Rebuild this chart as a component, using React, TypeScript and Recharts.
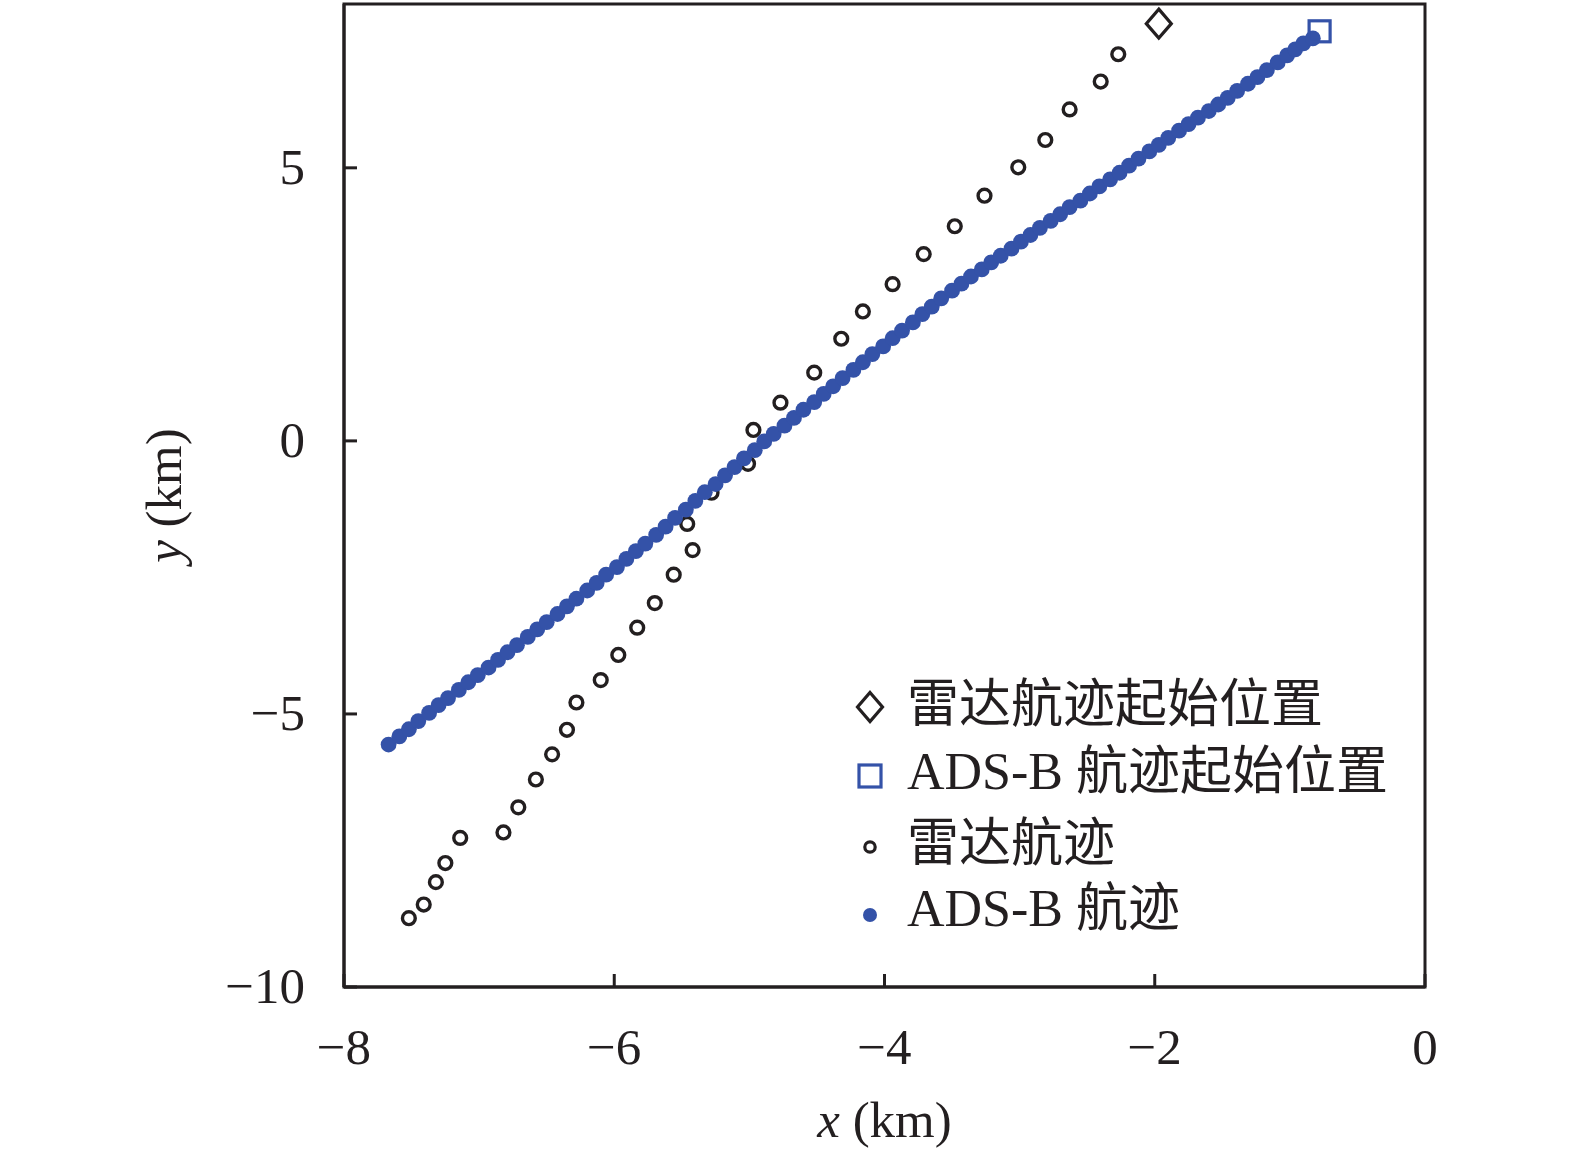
import React from 'react';
import { ScatterChart, Scatter, XAxis, YAxis, ReferenceArea, Legend } from 'recharts';

// ---------- data ----------
const xTicks = [-8, -6, -4, -2, 0];
const yTicks = [-10, -5, 0, 5];

const radarX = [
  -7.52, -7.41, -7.32, -7.25, -7.14, -6.82, -6.71, -6.58, -6.46, -6.35, -6.28, -6.1,
  -5.97, -5.83, -5.7, -5.56, -5.42, -5.46, -5.28, -5.01, -4.97, -4.77, -4.52, -4.32,
  -4.16, -3.94, -3.71, -3.48, -3.26, -3.01, -2.81, -2.63, -2.4, -2.27,
];
const radarY = [
  -8.74, -8.49, -8.08, -7.73, -7.27, -7.17, -6.71, -6.2, -5.74, -5.29, -4.79, -4.38,
  -3.92, -3.42, -2.97, -2.45, -2.0, -1.52, -0.95, -0.42, 0.2, 0.7, 1.25, 1.87,
  2.37, 2.87, 3.42, 3.93, 4.49, 5.01, 5.51, 6.07, 6.58, 7.08,
];

const adsbX = [
  -7.67, -7.59, -7.52, -7.45, -7.37, -7.3, -7.23, -7.15, -7.08, -7.01, -6.93, -6.86,
  -6.79, -6.72, -6.64, -6.57, -6.5, -6.42, -6.35, -6.28, -6.2, -6.13, -6.06, -5.98,
  -5.91, -5.84, -5.77, -5.69, -5.62, -5.55, -5.47, -5.4, -5.33, -5.25, -5.18, -5.11,
  -5.04, -4.96, -4.89, -4.82, -4.74, -4.67, -4.6, -4.52, -4.45, -4.38, -4.31, -4.23,
  -4.16, -4.09, -4.01, -3.94, -3.87, -3.79, -3.72, -3.65, -3.58, -3.5, -3.43, -3.36,
  -3.28, -3.21, -3.14, -3.06, -2.99, -2.92, -2.85, -2.77, -2.7, -2.63, -2.55, -2.48,
  -2.41, -2.33, -2.26, -2.19, -2.12, -2.04, -1.97, -1.9, -1.82, -1.75, -1.68, -1.6,
  -1.53, -1.46, -1.39, -1.31, -1.24, -1.17, -1.09, -1.02, -0.96, -0.9, -0.83,
];
const adsbY = [
  -5.56, -5.41, -5.28, -5.13, -4.98, -4.84, -4.71, -4.56, -4.42, -4.29, -4.15, -4.01,
  -3.87, -3.74, -3.59, -3.45, -3.32, -3.17, -3.03, -2.89, -2.74, -2.6, -2.45, -2.31,
  -2.16, -2.02, -1.88, -1.72, -1.57, -1.41, -1.26, -1.1, -0.94, -0.79, -0.63, -0.48,
  -0.32, -0.17, -0.01, 0.13, 0.28, 0.42, 0.57, 0.71, 0.86, 1.0, 1.15, 1.3,
  1.44, 1.59, 1.73, 1.88, 2.02, 2.17, 2.32, 2.46, 2.61, 2.75, 2.88, 3.01,
  3.14, 3.27, 3.39, 3.52, 3.65, 3.77, 3.9, 4.03, 4.15, 4.28, 4.4, 4.53,
  4.66, 4.79, 4.91, 5.04, 5.17, 5.3, 5.42, 5.55, 5.68, 5.8, 5.92, 6.04,
  6.16, 6.28, 6.41, 6.54, 6.66, 6.79, 6.93, 7.06, 7.17, 7.28, 7.37,
];

const radarStartX = [-1.97];
const radarStartY = [7.64];
const adsbStartX = [-0.78];
const adsbStartY = [7.5];

const legendLabels = ['雷达航迹起始位置', 'ADS-B 航迹起始位置', '雷达航迹', 'ADS-B 航迹'];

// ---------- tables ----------
const radarData = radarX.map((x, i) => ({ x, y: radarY[i] }));
const adsbData = adsbX.map((x, i) => ({ x, y: adsbY[i] }));
const radarStartData = radarStartX.map((x, i) => ({ x, y: radarStartY[i] }));
const adsbStartData = adsbStartX.map((x, i) => ({ x, y: adsbStartY[i] }));

// ---------- styles ----------
const INK = '#231f20';
const BLUE = '#3452a8';
const FONT = '"Liberation Serif", "Times New Roman", "Noto Sans CJK SC", serif';
const FS = 51;
const LFS = 52;

const fmt = (v: number) => (v < 0 ? '\u2212' + Math.abs(v) : String(v));

const XTick = (props: any) => {
  const { x, y, payload } = props;
  return (
    <g>
      <line x1={x} y1={y} x2={x} y2={y - 13} stroke={INK} strokeWidth={3} />
      <text x={x} y={y + 77} textAnchor="middle" fontFamily={FONT} fontSize={FS} fill={INK}>
        {fmt(payload.value)}
      </text>
    </g>
  );
};

const YTick = (props: any) => {
  const { x, y, payload } = props;
  return (
    <g>
      <line x1={x} y1={y} x2={x + 13} y2={y} stroke={INK} strokeWidth={3} />
      <text x={x - 39} y={y + 16} textAnchor="end" fontFamily={FONT} fontSize={FS} fill={INK}>
        {fmt(payload.value)}
      </text>
    </g>
  );
};

const XLabel = (props: any) => {
  const vb = props.viewBox || { x: 344, y: 987, width: 1081, height: 174 };
  const cx = vb.x + vb.width / 2;
  const by = vb.y + 150;
  return (
    <text x={cx} y={by} textAnchor="middle" fontFamily={FONT} fontSize={FS} fill={INK}>
      <tspan fontStyle="italic">x</tspan>
      <tspan> (km)</tspan>
    </text>
  );
};

const YLabel = (props: any) => {
  const vb = props.viewBox || { x: 0, y: 4, width: 344, height: 983 };
  const bx = vb.x + 181;
  const cy = vb.y + vb.height / 2;
  return (
    <text
      x={bx}
      y={cy}
      transform={`rotate(-90, ${bx}, ${cy})`}
      textAnchor="middle"
      fontFamily={FONT}
      fontSize={FS}
      fill={INK}
    >
      <tspan fontStyle="italic">y</tspan>
      <tspan> (km)</tspan>
    </text>
  );
};

const Ring = (p: any) => (
  <circle cx={p.cx} cy={p.cy} r={6.4} fill="none" stroke={INK} strokeWidth={3.4} />
);
const Dot = (p: any) => <circle cx={p.cx} cy={p.cy} r={7.9} fill={BLUE} />;
const Diamond = (p: any) => (
  <path
    d={`M${p.cx},${p.cy - 14.5} L${p.cx + 12.5},${p.cy} L${p.cx},${p.cy + 14.5} L${p.cx - 12.5},${p.cy} Z`}
    fill="none"
    stroke={INK}
    strokeWidth={3.2}
  />
);
const Square = (p: any) => (
  <rect x={p.cx - 10.5} y={p.cy - 10.5} width={21} height={21} fill="none" stroke={BLUE} strokeWidth={3.2} />
);

const renderLegend = () => {
  const mx = 30;
  const tx = 67;
  const rows = [37, 106, 177, 245];
  const base = [52, 119, 191, 256];
  return (
    <svg width={640} height={290} style={{ overflow: 'visible', display: 'block' }}>
      <path
        d={`M${mx},${rows[0] - 14.5} L${mx + 12.5},${rows[0]} L${mx},${rows[0] + 14.5} L${mx - 12.5},${rows[0]} Z`}
        fill="none"
        stroke={INK}
        strokeWidth={3.2}
      />
      <rect x={mx - 11} y={rows[1] - 11} width={22} height={22} fill="none" stroke={BLUE} strokeWidth={3.2} />
      <circle cx={mx} cy={rows[2]} r={5.2} fill="none" stroke={INK} strokeWidth={3.2} />
      <circle cx={mx} cy={rows[3]} r={7} fill={BLUE} />
      {legendLabels.map((t, i) => (
        <text key={t} x={tx} y={base[i]} fontFamily={FONT} fontSize={LFS} fill={INK}>
          {t}
        </text>
      ))}
    </svg>
  );
};

export default function App() {
  return (
    <div style={{ position: 'absolute', left: 0, top: 0, width: 1575, height: 1161, background: '#fff' }}>
      <ScatterChart width={1575} height={1161} margin={{ top: 4, right: 150, bottom: 0, left: 0 }}>
        <XAxis
          type="number"
          dataKey="x"
          domain={[-8, 0]}
          ticks={xTicks}
          interval={0}
          height={174}
          tickSize={0}
          tickMargin={0}
          tickLine={false}
          axisLine={{ stroke: INK, strokeWidth: 3 }}
          tick={<XTick />}
          label={<XLabel />}
        />
        <YAxis
          type="number"
          dataKey="y"
          domain={[-10, 8]}
          ticks={yTicks}
          interval={0}
          width={344}
          tickSize={0}
          tickMargin={0}
          tickLine={false}
          axisLine={{ stroke: INK, strokeWidth: 3 }}
          tick={<YTick />}
          label={<YLabel />}
        />
        <ReferenceArea
          x1={-8}
          x2={0}
          y1={-10}
          y2={8}
          fill="none"
          fillOpacity={0}
          stroke={INK}
          strokeWidth={3}
          ifOverflow="visible"
        />
        <Legend
          content={renderLegend}
          layout="horizontal"
          verticalAlign="middle"
          align="center"
          wrapperStyle={{ left: 840, top: 670, width: 640, height: 290 }}
        />
        <Scatter name="雷达航迹" data={radarData} shape={Ring} isAnimationActive={false} />
        <Scatter name="ADS-B 航迹" data={adsbData} shape={Dot} isAnimationActive={false} />
        <Scatter name="雷达航迹起始位置" data={radarStartData} shape={Diamond} isAnimationActive={false} />
        <Scatter name="ADS-B 航迹起始位置" data={adsbStartData} shape={Square} isAnimationActive={false} />
      </ScatterChart>
    </div>
  );
}
